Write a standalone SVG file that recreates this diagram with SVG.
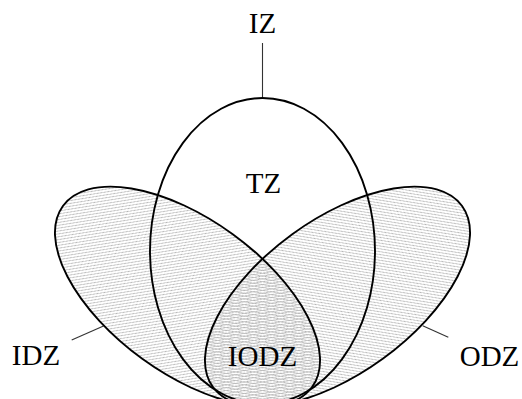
<svg xmlns="http://www.w3.org/2000/svg" xmlns:xlink="http://www.w3.org/1999/xlink" width="522" height="399" viewBox="0 0 522 399">
  <style>
    .outline { fill: none; stroke: #000; stroke-width: 1.9; }
    .label { font-family: "Liberation Serif", "Times New Roman", serif; font-size: 29px; fill: #000; text-anchor: middle; }
    .lead { stroke: #333; stroke-width: 1.1; fill: none; }
    .hatch { stroke: #b4b4b4; stroke-width: 1; }
  </style>
  <defs>
    <pattern id="ne" patternUnits="userSpaceOnUse" width="4" height="4">
      <path class="hatch" d="M-1,1 L1,-1 M0,4 L4,0 M3,5 L5,3"/>
    </pattern>
    <pattern id="nw" patternUnits="userSpaceOnUse" width="4" height="4">
      <path class="hatch" d="M-1,3 L1,5 M0,0 L4,4 M3,-1 L5,1"/>
    </pattern>
    <ellipse id="shape-idz" cx="0" cy="0" rx="154" ry="77" transform="translate(187.5,296.5) rotate(36)"/>
    <ellipse id="shape-odz" cx="0" cy="0" rx="154" ry="77" transform="translate(337.5,296.5) rotate(-36)"/>
  </defs>

  <g id="fills">
    <use xlink:href="#shape-idz" href="#shape-idz" fill="url(#ne)"/>
    <use xlink:href="#shape-odz" href="#shape-odz" fill="url(#nw)"/>
  </g>

  <g id="connectors">
    <line class="lead" x1="262.5" y1="43" x2="262.5" y2="98"/>
    <line class="lead" x1="71.7" y1="340" x2="103.5" y2="326"/>
    <line class="lead" x1="422.7" y1="325.7" x2="448.3" y2="337.3"/>
  </g>

  <g id="node-TZ">
    <ellipse class="outline" cx="262.5" cy="251" rx="112.5" ry="153"/>
    <text class="label" x="263.5" y="192.7">TZ</text>
  </g>

  <g id="node-IDZ">
    <use class="outline" xlink:href="#shape-idz" href="#shape-idz"/>
    <text class="label" x="36" y="365">IDZ</text>
  </g>

  <g id="node-ODZ">
    <use class="outline" xlink:href="#shape-odz" href="#shape-odz"/>
    <text class="label" x="489.5" y="366">ODZ</text>
  </g>

  <g id="node-IODZ">
    <text class="label" x="262.5" y="366">IODZ</text>
  </g>

  <g id="node-IZ">
    <text class="label" x="262.5" y="33.3">IZ</text>
  </g>
</svg>
